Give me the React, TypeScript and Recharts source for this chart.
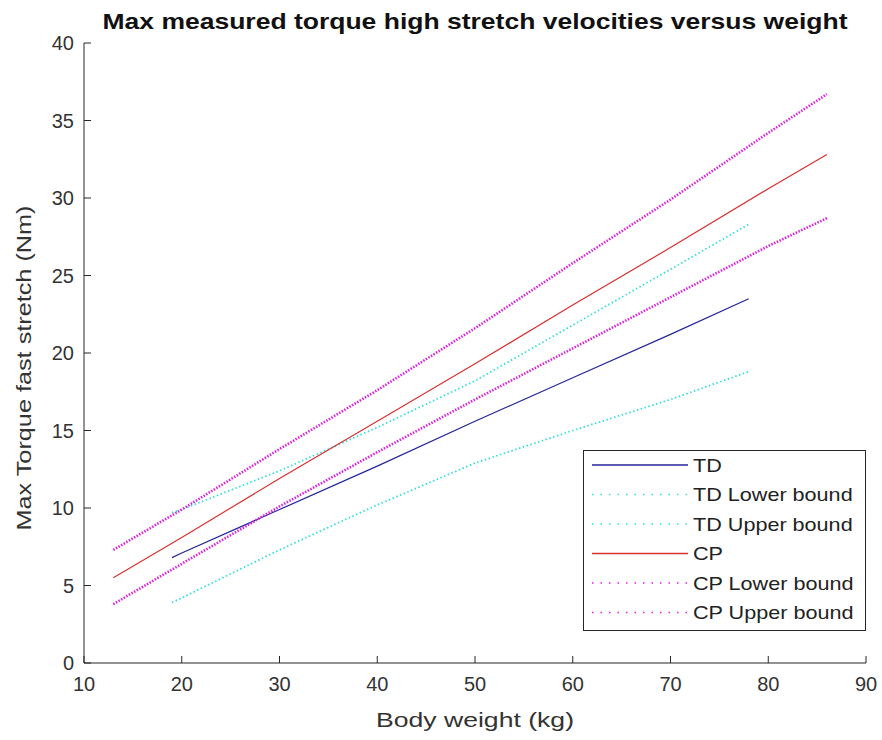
import React from 'react';
import { LineChart, Line, XAxis, YAxis, Legend } from 'recharts';

// ---- data ----
const weights = [13, 19, 20, 30, 40, 50, 60, 70, 78, 80, 86];
const tdFit = [null, 6.8, 7.1, 9.9, 12.7, 15.6, 18.4, 21.2, 23.5, null, null];
const tdLower = [null, 3.9, 4.2, 7.3, 10.2, 12.9, 15.0, 17.0, 18.8, null, null];
const tdUpper = [null, 9.7, 9.9, 12.4, 15.2, 18.2, 21.8, 25.4, 28.3, null, null];
const cpFit = [5.5, null, 8.1, 11.9, 15.6, 19.3, 23.1, 26.8, null, 30.6, 32.8];
const cpLower = [3.8, null, 6.4, 10.1, 13.6, 17.0, 20.3, 23.6, null, 26.9, 28.7];
const cpUpper = [7.3, null, 9.9, 13.8, 17.6, 21.6, 25.8, 29.9, null, 34.2, 36.7];

const xTicks = [10, 20, 30, 40, 50, 60, 70, 80, 90];
const yTicks = [0, 5, 10, 15, 20, 25, 30, 35, 40];

const seriesNames = ['TD', 'TD Lower bound', 'TD Upper bound', 'CP', 'CP Lower bound', 'CP Upper bound'];
const seriesValues = [tdFit, tdLower, tdUpper, cpFit, cpLower, cpUpper];

const titleText = 'Max measured torque high stretch velocities versus weight';
const xLabel = 'Body weight (kg)';
const yLabel = 'Max Torque fast stretch (Nm)';

// ---- styles ----
const seriesStyles = [
  { key: 's0', color: '#25259a', dash: undefined, width: 1.2, legendDash: undefined },
  { key: 's1', color: '#33dede', dash: '1.5 2.5', width: 1.8, legendDash: '1.5 7' },
  { key: 's2', color: '#33dede', dash: '1.5 2.5', width: 1.8, legendDash: '1.5 7' },
  { key: 's3', color: '#d83030', dash: undefined, width: 1.2, legendDash: undefined },
  { key: 's4', color: '#e020e0', dash: '1.5 1.5', width: 2.6, legendDash: '1.5 7' },
  { key: 's5', color: '#e020e0', dash: '1.5 1.5', width: 2.6, legendDash: '1.5 7' },
];

const FONT = '"Liberation Sans", Arial, Helvetica, sans-serif';
const AXIS = '#262626';
const TEXT = '#333333';

const data = weights.map((w, i) => {
  const row: Record<string, number | null> = { x: w };
  seriesStyles.forEach((s, k) => {
    row[s.key] = seriesValues[k][i];
  });
  return row;
});

const XTick = (props: any) => {
  const { x, y, payload } = props;
  return (
    <g>
      <line x1={x} y1={y} x2={x} y2={y - 7} stroke={AXIS} strokeWidth={1} />
      <text x={x} y={y + 28} textAnchor="middle" fontFamily={FONT} fontSize={20} fill={TEXT}>
        {payload.value}
      </text>
    </g>
  );
};

const YTick = (props: any) => {
  const { x, y, payload } = props;
  return (
    <g>
      <line x1={x} y1={y} x2={x + 7} y2={y} stroke={AXIS} strokeWidth={1} />
      <text x={x - 10} y={y + 7} textAnchor="end" fontFamily={FONT} fontSize={20} fill={TEXT}>
        {payload.value}
      </text>
    </g>
  );
};

const LegendBox = (props: any) => {
  const payload = props.payload || [];
  const rowH = 29.5;
  const ordered = seriesStyles
    .map((s) => payload.find((p: any) => p.dataKey === s.key))
    .filter(Boolean);
  return (
    <svg width={283} height={181}>
      <rect x={0.5} y={0.5} width={282} height={180} fill="#ffffff" stroke={AXIS} strokeWidth={1} />
      {ordered.map((p: any, i: number) => {
        const st = seriesStyles.find((s) => s.key === p.dataKey) || seriesStyles[0];
        const cy = 15 + i * rowH;
        return (
          <g key={String(p.dataKey)}>
            <line
              x1={9}
              y1={cy}
              x2={105}
              y2={cy}
              stroke={st.color}
              strokeWidth={st.legendDash ? 1.6 : 1.4}
              strokeDasharray={st.legendDash}
            />
            <text
              transform={`translate(110 ${cy + 6.5}) scale(1.2 1)`}
              fontFamily={FONT}
              fontSize={18}
              fill="#222"
            >
              {p.value}
            </text>
          </g>
        );
      })}
    </svg>
  );
};

export default function App() {
  return (
    <div style={{ position: 'absolute', left: 0, top: 0, width: 882, height: 740, background: '#ffffff' }}>
      <LineChart width={882} height={740} data={data} margin={{ top: 43, right: 16, bottom: 0, left: 0 }}>
        <XAxis
          type="number"
          dataKey="x"
          domain={[10, 90]}
          ticks={xTicks}
          height={77}
          tickSize={0}
          tickMargin={0}
          tickLine={false}
          axisLine={{ stroke: AXIS, strokeWidth: 1 }}
          tick={<XTick />}
          interval={0}
          allowDataOverflow
        />
        <YAxis
          type="number"
          domain={[0, 40]}
          ticks={yTicks}
          width={84}
          tickSize={0}
          tickMargin={0}
          tickLine={false}
          axisLine={{ stroke: AXIS, strokeWidth: 1 }}
          tick={<YTick />}
          interval={0}
          allowDataOverflow
        />
        {seriesStyles.map((s, k) => (
          <Line
            key={s.key}
            dataKey={s.key}
            name={seriesNames[k]}
            type="linear"
            stroke={s.color}
            strokeWidth={s.width}
            strokeDasharray={s.dash}
            dot={false}
            activeDot={false}
            connectNulls
            isAnimationActive={false}
          />
        ))}
        <Legend
          layout="vertical"
          align="center"
          verticalAlign="middle"
          content={<LegendBox />}
          wrapperStyle={{ position: 'absolute', left: 583, top: 450, right: 'auto', bottom: 'auto', width: 283, height: 181 }}
        />
      </LineChart>
      <svg
        width={882}
        height={740}
        style={{ position: 'absolute', left: 0, top: 0, pointerEvents: 'none' }}
      >
        <text
          x={475}
          y={29}
          textAnchor="middle"
          fontFamily={FONT}
          fontWeight="bold"
          fontSize={22}
          fill="#111"
          textLength={745}
          lengthAdjust="spacingAndGlyphs"
        >
          {titleText}
        </text>
        <text
          x={475}
          y={727}
          textAnchor="middle"
          fontFamily={FONT}
          fontSize={21}
          fill={TEXT}
          textLength={198}
          lengthAdjust="spacingAndGlyphs"
        >
          {xLabel}
        </text>
        <text
          transform="translate(31 368) rotate(-90)"
          textAnchor="middle"
          fontFamily={FONT}
          fontSize={21}
          fill={TEXT}
          textLength={325}
          lengthAdjust="spacingAndGlyphs"
        >
          {yLabel}
        </text>
      </svg>
    </div>
  );
}
